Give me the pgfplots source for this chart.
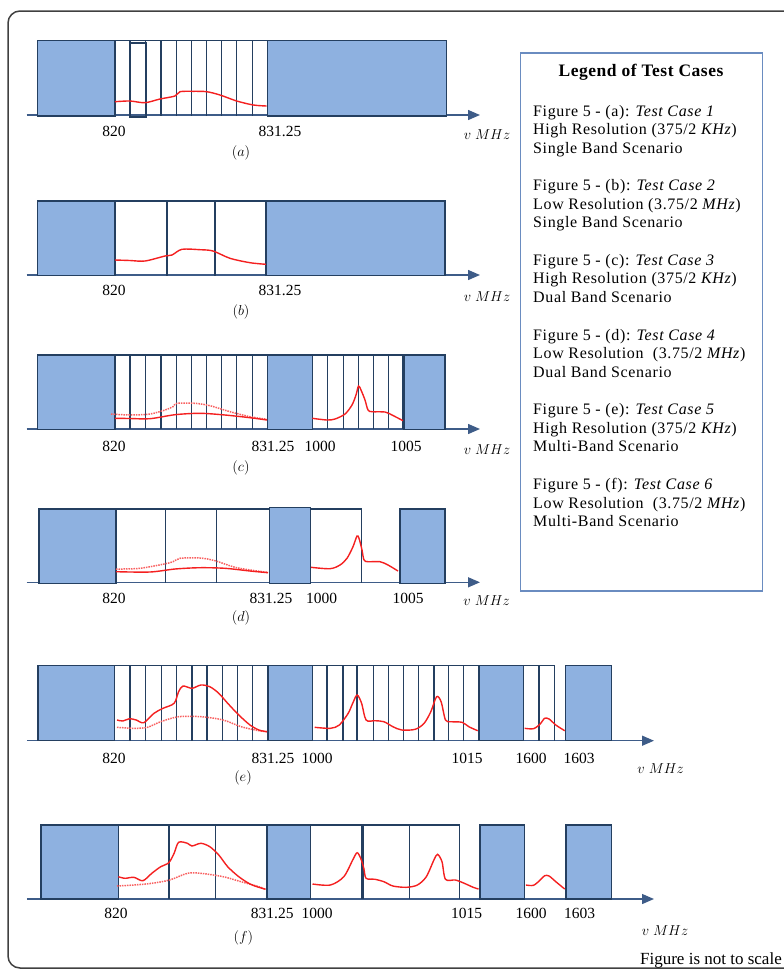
\documentclass[border=0pt]{standalone}
\usepackage{pgfplots}
\pgfplotsset{compat=1.18}
\usepackage{fontspec}
\setmainfont{Liberation Serif}
\usetikzlibrary{arrows.meta}
\definecolor{bandblue}{HTML}{8EB1E0}
\definecolor{navy}{HTML}{243F60}
\definecolor{axcol}{HTML}{3E5C88}
\definecolor{legframe}{HTML}{6A8CC0}
\definecolor{curvered}{HTML}{F42020}
\definecolor{dotred}{HTML}{F86060}
\definecolor{framegray}{HTML}{404040}

\newcommand{\bbox}[4]{\addplot[fill=bandblue, draw=navy, line width=1.4pt] coordinates {(#1,#3) (#2,#3) (#2,#4) (#1,#4)} --cycle;}
\newcommand{\vlines}[3]{\pgfplotsinvokeforeach{#3}{\addplot[navy, line width=1.3pt] coordinates {(##1,#1) (##1,#2)};}}
\newcommand{\topline}[3]{\addplot[navy, line width=1.3pt] coordinates {(#1,#3) (#2,#3)};}
\newcommand{\thickv}[3]{\addplot[navy, line width=2.4pt] coordinates {(#1,#2) (#1,#3)};}
\newcommand{\freqaxis}[3]{\addplot[axcol, line width=1.4pt, -{Triangle[length=12pt,width=10pt]}] coordinates {(#1,#3) (#2,#3)};}
\newcommand{\lab}[3]{\node[font=\fontsize{15.5}{15.5}\selectfont, inner sep=0pt] at (axis cs:#1,#2) {#3};}
\newcommand{\plab}[3]{\node[font=\fontsize{14}{14}\selectfont, inner sep=0pt] at (axis cs:#1,#2) {$(#3)$};}
\newcommand{\vmhz}[2]{\node[font=\fontsize{14.5}{14.5}\selectfont, inner sep=0pt] at (axis cs:#1,#2) {$v\;MHz$};}
\newcommand{\leg}[2]{\node[font=\fontsize{16}{18}\selectfont\addfontfeatures{LetterSpace=4}, anchor=base west, inner sep=0pt] at (axis cs:533,#1) {#2};}

\tikzset{solidc/.style={curvered, line width=1.4pt, smooth, tension=0.5},
         dotc/.style={dotred, line width=1.5pt, densely dotted, smooth, tension=0.5}}

\begin{document}
\begin{tikzpicture}
\begin{axis}[name=ax, width=784pt, height=970pt, scale only axis,
  xmin=0, xmax=784, ymin=0, ymax=970, y dir=reverse,
  axis lines=none, xtick=\empty, ytick=\empty, clip=false, no markers]

% outer frame
\draw[framegray, line width=1.5pt, rounded corners=12pt]
  (axis cs:800,11) -- (axis cs:8,11) -- (axis cs:8,968) -- (axis cs:800,968);

% ---------- (a) ----------
\freqaxis{26.7}{480}{115}
\topline{115}{267.7}{40.7}
\vlines{40.7}{116}{115,130,145.7,161,176.7,191.7,206.7,221.7,236.7,252.3,267.7}
\bbox{37.3}{115}{40.7}{116}
\bbox{267.7}{446.7}{40.7}{116}
\addplot[navy, line width=2.2pt] coordinates {(130,42.7) (145.7,42.7) (145.7,116.7) (130,116.7)} --cycle;
\addplot[solidc] coordinates {(115,101.7) (130,101) (145,102.7) (160,99) (175,96) (180,91.7) (193,91.3) (206.7,91.7) (220,95) (236.7,101) (253.3,105) (266.7,106)};
\lab{114}{131.7}{820}
\lab{280}{131.7}{831.25}
\plab{241}{153}{a}
\vmhz{487}{135}

% ---------- (b) ----------
\freqaxis{26.7}{480}{275}
\topline{115}{266}{201}
\vlines{201}{275.7}{115,167,215,266}
\bbox{37.3}{115}{201}{275.7}
\bbox{266}{445}{201}{275.7}
\addplot[solidc] coordinates {(115,260) (130,260.5) (145,261) (165,256) (172,255) (182,249.3) (200,249.7) (213,251) (230,258.3) (250,262.7) (266,264.3)};
\lab{114}{290}{820}
\lab{280}{290}{831.25}
\plab{241}{311.7}{b}
\vmhz{487}{297}

% ---------- (c) ----------
\freqaxis{26.7}{480}{429}
\topline{115}{267.7}{355}
\topline{312.3}{403.3}{355}
\vlines{355}{429.3}{115,130,145.7,161,176.7,191.7,206.7,221.7,236.7,252.3,267.7}
\vlines{355}{429.3}{312.3,327.7,343.3,358.3,373.3,388.3,403.3}
\bbox{37.3}{115}{355}{429.3}
\bbox{267.7}{312.3}{355}{429.3}
\bbox{403.3}{445}{355}{429.3}
\thickv{403.3}{355}{429.3}
\addplot[dotc] coordinates {(111,414) (130,415) (150,414) (165,410) (173,406.7) (177,403.3) (195,403.3) (210,405.7) (230,411.7) (250,416.7) (267,419.3)};
\addplot[solidc] coordinates {(115,418.3) (130,418.5) (150,418.7) (175,414.7) (200,413.3) (225,415) (250,417.7) (267,420)};
\addplot[solidc] coordinates {(312.3,418.3) (327,420) (335,419) (345,414) (352,405) (356,395) (358.5,386) (361,390) (365,400) (368,410) (372,411.7) (385,412) (392,415) (403,420.7)};
\lab{114}{446}{820}
\lab{273}{446}{831.25}
\lab{320}{446}{1000}
\lab{406}{446}{1005}
\plab{241}{468.3}{c}
\vmhz{487}{449.5}

% ---------- (d) ----------
\freqaxis{26.7}{480}{582.3}
\topline{116}{269.3}{509}
\topline{310.7}{361.7}{509}
\vlines{509}{583}{116,165.7,216.7,269.3}
\vlines{509}{583}{310.7,361.7}
\bbox{39}{116}{509}{583.3}
\bbox{269.3}{310.7}{507.3}{583.3}
\bbox{400}{445}{509}{583.3}
\addplot[dotc] coordinates {(116,569) (140,568.3) (170,562.7) (180,558.3) (200,558) (215,560.7) (235,567.3) (255,570.7) (268,572.3)};
\addplot[solidc] coordinates {(116,571.7) (150,572) (175,569) (200,567.7) (225,568.3) (250,571) (268,572.7)};
\addplot[solidc] coordinates {(311,567.3) (330,568.7) (340,565) (347,558.3) (353,546.7) (357,536) (359,538.3) (362,550) (364,560) (368,561.7) (380,561.7) (388,565) (398,571)};
\lab{114}{598.3}{820}
\lab{271}{598.3}{831.25}
\lab{321.7}{598.3}{1000}
\lab{408}{598.3}{1005}
\plab{241}{618.3}{d}
\vmhz{486.7}{600.7}

% ---------- (e) ----------
\freqaxis{26.8}{654}{740.7}
\topline{114.7}{267.9}{665.7}
\topline{312.5}{479}{665.7}
\topline{523.2}{554.5}{665.7}
\vlines{665.7}{740.7}{114.7,129.9,145.5,161.6,176.8,192,207.1,222.3,237.5,252.7,267.9}
\vlines{665.7}{740.7}{312.5,327.2,342.9,357.1,373.2,388.4,403.6,418.8,433.9,448.7,463.4,479}
\vlines{665.7}{740.7}{523.2,539,554.5}
\bbox{38}{114.7}{665.7}{740.7}
\bbox{267.9}{312.5}{665.7}{740.7}
\bbox{479}{523.2}{665.7}{740.7}
\bbox{565.6}{611.3}{665.7}{740.7}
\thickv{327.2}{665.7}{740.7}
\addplot[dotc] coordinates {(117,727.3) (133.9,728.3) (147.3,727.3) (160.7,721.7) (178.6,716.7) (200.9,716.7) (223.2,720) (241.1,726.7) (258.9,730.7) (267,731.7)};
\addplot[solidc] coordinates {(117,720) (122.8,721) (129.5,718.7) (136.2,720) (143.8,722.7) (154,713.3) (163,708.3) (174.1,703.3) (178.6,691.7) (183,686) (192,688.3) (200.9,685) (209.8,686.7) (218.8,693.3) (227.7,703.3) (238.8,715) (250,725) (258.9,730) (267,731.7)};
\addplot[solidc] coordinates {(314.7,727.3) (330.4,728.3) (339.3,725) (348.2,713.3) (352.7,703.3) (357.1,695) (361.6,703.3) (366.1,720) (375,720.7) (383.9,721.7) (392.9,726.7) (401.8,730) (415.2,729.3) (424.1,723.3) (430.8,711.7) (436.6,696.7) (441.1,701.7) (445.5,720) (450.9,721.7) (462.1,722.3) (468.8,726.7) (477.7,730.7)};
\addplot[solidc] coordinates {(524.6,728.3) (533.5,728.7) (540.2,724) (544.6,718.3) (549.1,719) (555.8,725) (564.7,730.7)};
\lab{114}{758.3}{820}
\lab{273}{758.3}{831.25}
\lab{317}{758.3}{1000}
\lab{467}{758.3}{1015}
\lab{531}{758.3}{1600}
\lab{579}{758.3}{1603}
\plab{243}{778.3}{e}
\vmhz{660.7}{768.3}

% ---------- (f) ----------
\freqaxis{26.8}{654}{899}
\topline{118.3}{267}{825}
\topline{310.3}{459.8}{825}
\vlines{825}{899}{118.3,168.8,215.6,267}
\vlines{825}{899}{310.3,362.5,409.8,459.8}
\bbox{41}{118.3}{825}{899}
\bbox{267}{310.3}{825}{899}
\bbox{479.9}{524.6}{825}{899}
\bbox{566}{611.6}{825}{899}
\thickv{168.8}{825}{899}
\thickv{362.5}{825}{899}
\addplot[dotc] coordinates {(117,886) (133.9,885) (151.8,883.3) (169.6,880) (187.5,873.3) (200.9,873.3) (223.2,876.7) (241.1,881.7) (258.9,886.7) (265.6,889.3)};
\addplot[solidc] coordinates {(118.3,876.7) (125,878.3) (133.9,877.3) (142.9,880.7) (151.8,873.3) (160.7,866.7) (168.8,862.7) (174.1,853.3) (178.6,842.3) (187.5,843.3) (192,846) (200.9,843.3) (209.8,846.7) (218.8,855) (227.7,866.7) (238.8,876.7) (250,884) (258.9,887.3) (265.6,889.3)};
\addplot[solidc] coordinates {(312.5,884) (330.4,885) (343.8,876.7) (352.7,860) (357.1,852.7) (360.7,858.3) (363.8,868.3) (366.1,878.3) (375,879.3) (383.9,881.7) (392.9,886) (406.3,887.3) (417.4,885) (426.3,876.7) (433.9,860) (437.5,854.3) (442,861.7) (445.5,879.3) (455.4,880) (464.3,883.3) (473.2,887.3) (478.6,889)};
\addplot[solidc] coordinates {(525.9,885) (533.5,885.3) (540.2,880) (544.6,875.7) (549.1,876) (555.8,881.7) (564.7,889)};
\lab{116}{913.3}{820}
\lab{272.3}{913.3}{831.25}
\lab{317}{913.3}{1000}
\lab{466.5}{913.3}{1015}
\lab{531}{913.3}{1600}
\lab{579.5}{913.3}{1603}
\plab{243.3}{938.3}{f}
\vmhz{665}{930.7}

% ---------- legend box ----------
\draw[legframe, line width=1.8pt] (axis cs:520.5,53.3) rectangle (axis cs:762.5,591);
\node[font=\fontsize{17.5}{18}\selectfont\bfseries\addfontfeatures{LetterSpace=3}, anchor=base, inner sep=0pt] at (axis cs:641,76) {Legend of Test Cases};
\leg{116}{Figure 5 - (a): \textit{Test Case 1}}
\leg{134.5}{High Resolution (375/2 \textit{KHz})}
\leg{153}{Single Band Scenario}
\leg{190.7}{Figure 5 - (b): \textit{Test Case 2}}
\leg{209.2}{Low Resolution (3.75/2 \textit{MHz})}
\leg{227.7}{Single Band Scenario}
\leg{265.4}{Figure 5 - (c): \textit{Test Case 3}}
\leg{283.9}{High Resolution (375/2 \textit{KHz})}
\leg{302.4}{Dual Band Scenario}
\leg{340.1}{Figure 5 - (d): \textit{Test Case 4}}
\leg{358.6}{Low Resolution\ \ (3.75/2 \textit{MHz})}
\leg{377.1}{Dual Band Scenario}
\leg{414.8}{Figure 5 - (e): \textit{Test Case 5}}
\leg{433.3}{High Resolution (375/2 \textit{KHz})}
\leg{451.8}{Multi-Band Scenario}
\leg{489.5}{Figure 5 - (f): \textit{Test Case 6}}
\leg{508}{Low Resolution\ \ (3.75/2 \textit{MHz})}
\leg{526.5}{Multi-Band Scenario}

\node[font=\fontsize{17}{17}\selectfont, anchor=base east, inner sep=0pt] at (axis cs:782,964.5) {Figure is not to scale};
\end{axis}
\pgfresetboundingbox
\path[use as bounding box] (ax.south west) rectangle (ax.north east);
\end{tikzpicture}
\end{document}
